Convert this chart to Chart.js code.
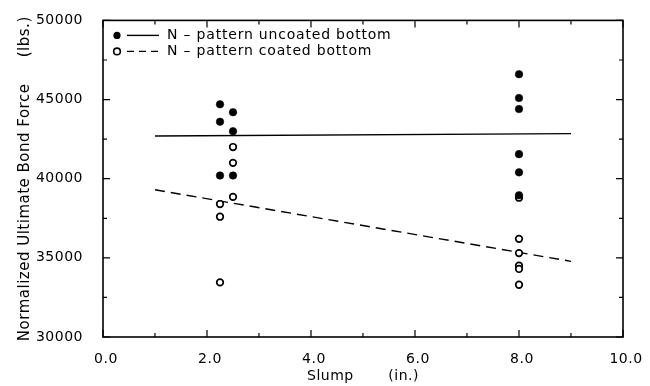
<!DOCTYPE html>
<html><head><meta charset="utf-8">
<script src="https://cdn.jsdelivr.net/npm/chart.js@4/dist/chart.umd.min.js"></script>
<style>html,body{margin:0;padding:0;background:#fff}#wrap{width:650px;height:386px}</style>
</head><body><div id="wrap"><canvas id="c" width="650" height="386"></canvas></div>
<script>
// ---- data ----
const uncoatedX = [2.25, 2.25, 2.25, 2.5, 2.5, 2.5, 8, 8, 8, 8, 8, 8];
const uncoatedY = [44700, 43600, 40200, 44200, 43000, 40200, 46600, 45100, 44400, 41550, 40400, 38950];
const coatedX = [2.25, 2.25, 2.25, 2.5, 2.5, 2.5, 8, 8, 8, 8, 8, 8];
const coatedY = [38400, 37600, 33450, 42000, 41000, 38850, 38800, 36200, 35300, 34500, 34300, 33300];
const fitX = [1, 9];
const uncoatedFitY = [42700, 42850];
const coatedFitY = [39300, 34780];
const xMajorTicks = [0, 2, 4, 6, 8, 10];
const yMajorTicks = [30000, 35000, 40000, 45000, 50000];
const legendLabels = ['N \u2013 pattern uncoated bottom', 'N \u2013 pattern coated bottom'];
const xTitle = 'Slump       (in.)';
const yTitle = 'Normalized Ultimate Bond Force     (lbs.)';

const pts = (xs, ys) => xs.map((x, i) => ({x: x, y: ys[i]}));
const FONT = '"DejaVu Sans", sans-serif';

const spacingPlugin = {
  id: 'spacing',
  beforeDraw(chart) { chart.ctx.letterSpacing = '0.5px'; }
};

const framePlugin = {
  id: 'frame',
  afterDatasetsDraw(chart) {
    const {ctx, chartArea: a, scales: {x, y}} = chart;
    ctx.save();
    ctx.strokeStyle = '#000';
    ctx.lineWidth = 1.6;
    ctx.strokeRect(a.left, a.top, a.right - a.left, a.bottom - a.top);
    ctx.lineWidth = 1.2;
    ctx.beginPath();
    for (let v = 0; v <= 10; v += 1) {
      const px = x.getPixelForValue(v);
      const len = (v % 2 === 0) ? 7 : 4;
      ctx.moveTo(px, a.bottom); ctx.lineTo(px, a.bottom - len);
      ctx.moveTo(px, a.top); ctx.lineTo(px, a.top + len);
    }
    for (let v = 30000; v <= 50000; v += 2500) {
      const py = y.getPixelForValue(v);
      const len = (v % 5000 === 0) ? 7 : 4;
      ctx.moveTo(a.left, py); ctx.lineTo(a.left + len, py);
      ctx.moveTo(a.right, py); ctx.lineTo(a.right - len, py);
    }
    ctx.stroke();
    // legend
    const lx = a.left + 14, ly1 = a.top + 15, ly2 = a.top + 31;
    ctx.fillStyle = '#000';
    ctx.beginPath(); ctx.arc(lx, ly1, 3.6, 0, Math.PI * 2); ctx.fill();
    ctx.lineWidth = 1.6;
    ctx.fillStyle = '#fff';
    ctx.beginPath(); ctx.arc(lx, ly2, 3.3, 0, Math.PI * 2); ctx.fill(); ctx.stroke();
    ctx.lineWidth = 1.4;
    ctx.beginPath(); ctx.moveTo(lx + 10, ly1); ctx.lineTo(lx + 42, ly1); ctx.stroke();
    ctx.setLineDash([7, 5]);
    ctx.beginPath(); ctx.moveTo(lx + 10, ly2); ctx.lineTo(lx + 42, ly2); ctx.stroke();
    ctx.setLineDash([]);
    ctx.fillStyle = '#000';
    ctx.font = '14px ' + FONT;
    ctx.letterSpacing = '0.8px';
    ctx.textBaseline = 'middle';
    ctx.textAlign = 'left';
    ctx.fillText(legendLabels[0], lx + 50, ly1);
    ctx.fillText(legendLabels[1], lx + 50, ly2);
    ctx.restore();
  }
};

new Chart(document.getElementById('c'), {
  type: 'scatter',
  data: {
    datasets: [
      {label: 'uncoated fit', data: pts(fitX, uncoatedFitY), showLine: true, borderColor: '#000', borderWidth: 1.4, pointRadius: 0, order: 3},
      {label: 'coated fit', data: pts(fitX, coatedFitY), showLine: true, borderColor: '#000', borderWidth: 1.4, borderDash: [10, 6], pointRadius: 0, order: 3},
      {label: legendLabels[0], data: pts(uncoatedX, uncoatedY), pointRadius: 3.8, pointBackgroundColor: '#000', pointBorderColor: '#000', pointBorderWidth: 0.5, order: 1},
      {label: legendLabels[1], data: pts(coatedX, coatedY), pointRadius: 3.3, pointBackgroundColor: '#fff', pointBorderColor: '#000', pointBorderWidth: 1.7, order: 2}
    ]
  },
  options: {
    responsive: false,
    animation: false,
    devicePixelRatio: 1,
    layout: {padding: {top: 18, right: 27, left: 0, bottom: 0}},
    plugins: {legend: {display: false}, tooltip: {enabled: false}},
    scales: {
      x: {
        type: 'linear', min: 0, max: 10,
        grid: {display: false}, border: {display: false},
        afterFit: s => { s.height = 49; },
        afterBuildTicks: s => { s.ticks = xMajorTicks.map(v => ({value: v})); },
        ticks: {autoSkip: false, maxRotation: 0, padding: 6, labelOffset: 3, color: '#000', font: {family: FONT, size: 14},
          callback: v => Number(v).toFixed(1)},
        title: {display: true, text: xTitle, color: '#000', font: {family: FONT, size: 14}, padding: {top: 0, bottom: 1}}
      },
      y: {
        type: 'linear', min: 30000, max: 50000,
        grid: {display: false}, border: {display: false},
        afterFit: s => { s.width = 103; },
        afterBuildTicks: s => { s.ticks = yMajorTicks.map(v => ({value: v})); },
        ticks: {autoSkip: false, padding: 12, color: '#000', font: {family: FONT, size: 14},
          callback: v => String(v)},
        title: {display: true, text: yTitle, color: '#000', font: {family: FONT, size: 15}, padding: {top: 16, bottom: 0}}
      }
    }
  },
  plugins: [spacingPlugin, framePlugin]
});
</script></body></html>
